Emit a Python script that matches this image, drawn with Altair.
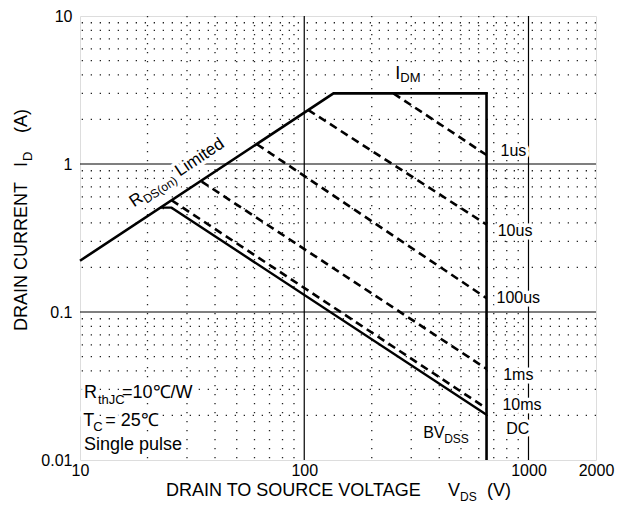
import altair as alt
import pandas as pd

FONT = "Liberation Sans, Arial, Helvetica, sans-serif"

# ---------------- data ----------------
# Safe-operating-area outer boundary: R_DS(on) limit -> I_DM -> BV_DSS
V_SOA = [10, 135, 650, 650]
I_SOA = [0.222, 3.0, 3.0, 0.01]

# DC line (solid)
V_DC = [22.8, 25.6, 650]
I_DC = [0.507, 0.507, 0.0202]

# single-pulse lines (dashed)
PULSES = ["1us", "10us", "100us", "1ms", "10ms"]
V_PULSE_START = [250, 104, 61.5, 34.9, 25.6]
I_PULSE_START = [3.0, 2.32, 1.36, 0.76, 0.569]
V_PULSE_END = [650, 650, 650, 650, 650]
I_PULSE_END = [1.15, 0.39, 0.124, 0.0413, 0.0223]

# curve labels on the right
LABEL_TEXT = ["1us", "10us", "100us", "1ms", "10ms", "DC"]
LABEL_V = [750, 729, 720, 771, 765, 795]
LABEL_I = [1.227, 0.354, 0.1245, 0.0374, 0.0235, 0.01626]

# axis ticks and grid
X_TICKS = [10, 100, 1000, 2000]
Y_TICKS = [0.01, 0.1, 1, 10]
X_MAJOR = [100, 1000]
Y_MAJOR = [0.1, 1]
X_MINOR = [20, 30, 40, 50, 60, 70, 80, 90, 200, 300, 400, 500, 600, 700, 800, 900]
Y_MINOR = [0.02, 0.03, 0.04, 0.05, 0.06, 0.07, 0.08, 0.09,
           0.2, 0.3, 0.4, 0.5, 0.6, 0.7, 0.8, 0.9,
           2, 3, 4, 5, 6, 7, 8, 9]

# ---------------- tables ----------------
soa = pd.DataFrame({"v": V_SOA, "i": I_SOA, "o": list(range(len(V_SOA)))})
dc = pd.DataFrame({"v": V_DC, "i": I_DC, "o": list(range(len(V_DC)))})
rows = []
for s, v0, i0, v1, i1 in zip(PULSES, V_PULSE_START, I_PULSE_START, V_PULSE_END, I_PULSE_END):
    rows.append({"s": s, "v": v0, "i": i0, "o": 0})
    rows.append({"s": s, "v": v1, "i": i1, "o": 1})
pulses = pd.DataFrame(rows)

W, H = 516, 444
xs = alt.Scale(type="log", domain=[10, 2000], nice=False)
ys = alt.Scale(type="log", domain=[0.01, 10], nice=False)
xa = alt.Axis(values=X_TICKS, labelExpr="'' + datum.value", title=None, grid=False,
              ticks=False, domain=False, labelPadding=2, labelFontSize=16,
              labelFont=FONT, labelColor="black", labelFlush=False, labelOverlap=False)
ya = alt.Axis(values=Y_TICKS, labelExpr="'' + datum.value", title=None, grid=False,
              ticks=False, domain=False, labelPadding=8, labelFontSize=16,
              labelFont=FONT, labelColor="black", labelFlush=False, labelOverlap=False)


def X(f="v"):
    return alt.X(f"{f}:Q", scale=xs, axis=xa)


def Y(f="i"):
    return alt.Y(f"{f}:Q", scale=ys, axis=ya)


# ---------------- grid ----------------
minor_x = alt.Chart(pd.DataFrame({"v": X_MINOR})).mark_rule(
    color="#222", strokeWidth=1.3, strokeDash=[1.3, 7.7]).encode(x=X())
minor_y = alt.Chart(pd.DataFrame({"i": Y_MINOR})).mark_rule(
    color="#222", strokeWidth=1.3, strokeDash=[1.3, 7.7]).encode(y=Y())
major_x = alt.Chart(pd.DataFrame({"v": X_MAJOR})).mark_rule(
    color="black", strokeWidth=1.2).encode(x=X())
major_y = alt.Chart(pd.DataFrame({"i": Y_MAJOR})).mark_rule(
    color="black", strokeWidth=1.2).encode(y=Y())

# ---------------- curves ----------------
soa_line = alt.Chart(soa).mark_line(color="black", strokeWidth=2.6, strokeJoin="miter").encode(
    x=X(), y=Y(), order="o:Q")
dc_line = alt.Chart(dc).mark_line(color="black", strokeWidth=2.4, strokeJoin="miter").encode(
    x=X(), y=Y(), order="o:Q")
pulse_lines = alt.Chart(pulses).mark_line(color="black", strokeWidth=2.6, strokeDash=[8, 5]).encode(
    x=X(), y=Y(), detail="s:N", order="o:Q")

# ---------------- text helpers ----------------
halos, texts = [], []


def add_text(t, v, i, size, dx=0, dy=0, angle=0, baseline="middle", halo=True):
    df = pd.DataFrame({"v": [v], "i": [i], "t": [t]})
    base = alt.Chart(df).encode(x=X(), y=Y(), text="t:N")
    kw = dict(font=FONT, fontSize=size, dx=dx, dy=dy, angle=angle, align="left", baseline=baseline)
    if halo:
        halos.append(base.mark_text(stroke="white", strokeWidth=7, strokeJoin="round",
                                    fill="white", **kw))
    texts.append(base.mark_text(color="black", **kw))


def add_pixel_text(t, px, py, size, angle=0):
    df = pd.DataFrame({"t": [t]})
    texts.append(alt.Chart(df).mark_text(font=FONT, fontSize=size, angle=angle, align="left",
                                         baseline="middle", color="black").encode(
        x=alt.value(px), y=alt.value(py), text="t:N"))


# curve labels
for t, v, i in zip(LABEL_TEXT, LABEL_V, LABEL_I):
    add_text(t, v, i, 16)

# I_DM
add_text("I", 254.7, 4.06, 18)
add_text("DM", 254.7, 4.06, 13, dx=5, dy=4)

# BV_DSS
add_text("BV", 339, 0.01525, 16)
add_text("DSS", 339, 0.01525, 12, dx=21, dy=6)

# R_DS(on) Limited (rotated along the line)
ANG = 326.2
add_text("R", 17.42, 0.509, 17, angle=ANG, baseline="alphabetic")
add_text("DS(on)", 17.42, 0.509, 12, dx=12.5, dy=4, angle=ANG, baseline="alphabetic")
add_text("Limited", 17.42, 0.509, 17, dx=55, angle=ANG, baseline="alphabetic")

# conditions box
add_text("R", 10.42, 0.02852, 18)
add_text("thJC", 10.42, 0.02852, 13, dx=14, dy=7)
add_text("=10\u2103/W", 10.42, 0.02852, 18, dx=38)
add_text("T", 10.35, 0.01848, 18)
add_text("C", 10.35, 0.01848, 13, dx=10, dy=6)
add_text("= 25\u2103", 10.35, 0.01848, 18, dx=22)
add_text("Single pulse", 10.42, 0.01259, 18)

# axis titles (pixel positions relative to the plot area)
add_pixel_text("DRAIN TO SOURCE VOLTAGE", 86, 475, 18)
add_pixel_text("V", 368, 475, 18)
add_pixel_text("DS", 380, 481, 12)
add_pixel_text("(V)", 407, 475, 18)

add_pixel_text("DRAIN CURRENT", -58, 315, 18, angle=270)
add_pixel_text("I", -58, 151, 18, angle=270)
add_pixel_text("D", -52, 145, 13, angle=270)
add_pixel_text("(A)", -58, 117, 18, angle=270)

layers = [minor_x, minor_y, major_x, major_y] + halos + [soa_line, dc_line, pulse_lines] + texts

chart = alt.layer(*layers).properties(
    width=W, height=H,
    autosize=alt.AutoSizeParams(type="none"),
    padding={"left": 72, "top": 8, "right": 25, "bottom": 43},
).configure_view(
    stroke="#333", strokeWidth=1.6
).configure(background="white")

chart.save("out.html", embed_options={"renderer": "svg", "actions": False})
